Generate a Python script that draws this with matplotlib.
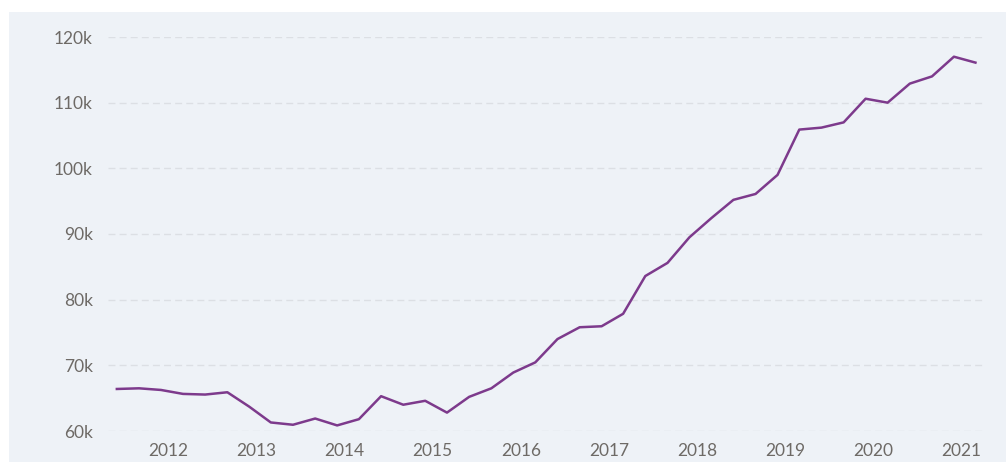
import numpy as np
import pandas as pd
import matplotlib
matplotlib.use("Agg")
import matplotlib.pyplot as plt
from matplotlib.patches import Rectangle
from matplotlib.ticker import FuncFormatter

# quarterly values, in thousands
start_date = "2011-06-01"
values = [66.4, 66.5, 66.25, 65.65, 65.55, 65.9, 63.7, 61.3, 60.95, 61.9,
          60.85, 61.8, 65.3, 64.0, 64.6, 62.8, 65.2, 66.5, 68.9, 70.45,
          74.0, 75.8, 75.95, 77.85, 83.6, 85.6, 89.5, 92.4, 95.2, 96.1,
          99.0, 105.9, 106.2, 107.0, 110.6, 110.0, 112.9, 114.0, 117.0, 116.1]
years = list(range(2012, 2022))
y_ticks = [60, 70, 80, 90, 100, 110, 120]

dates = pd.date_range(start_date, periods=len(values), freq="3MS")
xs = dates.year + (dates.dayofyear - 1) / 365.25

plt.rcParams["font.family"] = ["Lato", "DejaVu Sans"]

fig = plt.figure(figsize=(10.06, 4.62), dpi=100)
fig.patch.set_facecolor("white")
fig.patches.append(Rectangle((9 / 1006, 0), 1, 450 / 462, transform=fig.transFigure,
                             facecolor="#eef2f7", edgecolor="none", zorder=-10))

ax = fig.add_axes([108 / 1006, 31 / 462, 877 / 1006, 394 / 462])
ax.set_facecolor("none")
ax.plot(xs, values, color="#7d3a8c", linewidth=1.8)

ax.set_xlim(2011.313, 2021.27)
ax.set_ylim(60, 120)
ax.set_xticks(years)
ax.set_xticklabels([str(y) for y in years])
ax.set_yticks(y_ticks)
ax.yaxis.set_major_formatter(FuncFormatter(lambda v, p: "%dk" % v))

ax.grid(axis="y", color="#dcdfe4", linestyle=(0, (5, 3)), linewidth=1)
ax.set_axisbelow(True)
for s in ax.spines.values():
    s.set_visible(False)
ax.tick_params(axis="both", length=0, labelsize=12.5, colors="#6e6a66")
ax.tick_params(axis="y", pad=11)
ax.tick_params(axis="x", pad=9)

fig.savefig("out.png", dpi=100)
